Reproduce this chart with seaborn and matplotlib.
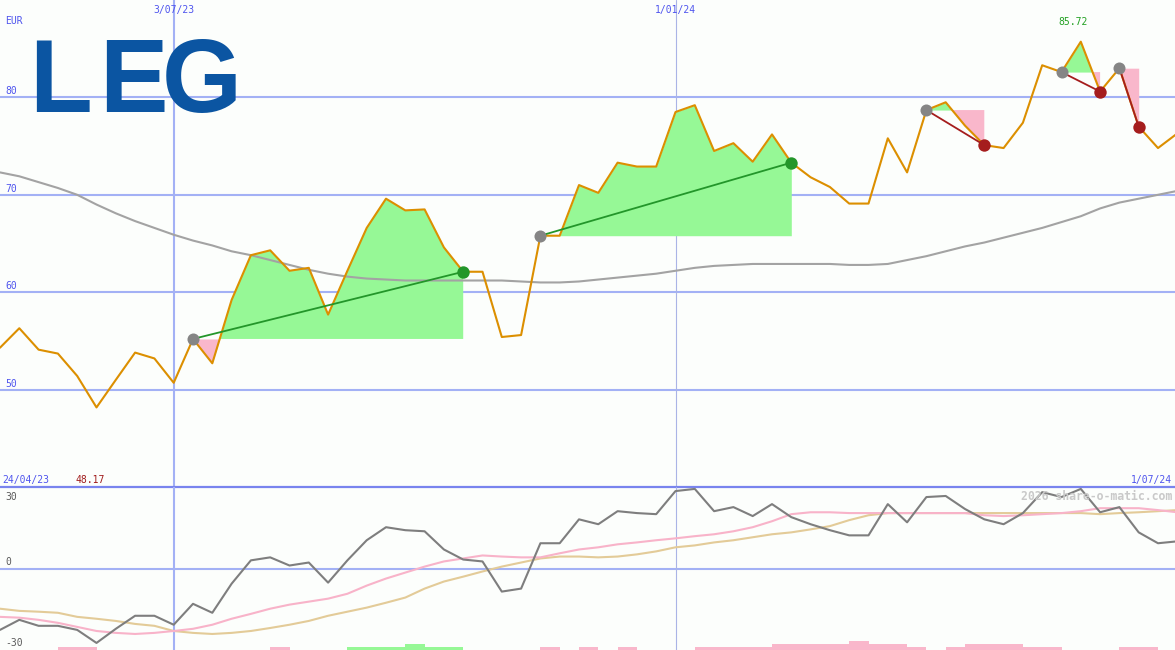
import matplotlib
matplotlib.use("Agg")
import matplotlib.pyplot as plt
import seaborn as sns
import numpy as np
import pandas as pd

# weekly closes (EUR), first point = week of 1/05/23
price = [54.3, 56.3, 54.1, 53.7, 51.4, 48.17, 51.0, 53.8, 53.2, 50.7,
         55.2, 52.7, 59.2, 63.8, 64.3, 62.2, 62.5, 57.7, 62.2, 66.6,
         69.6, 68.4, 68.5, 64.6, 62.1, 62.1, 55.4, 55.6, 65.8, 65.8,
         71.0, 70.2, 73.3, 72.9, 72.9, 78.5, 79.2, 74.5, 75.3, 73.4,
         76.2, 73.3, 71.8, 70.8, 69.1, 69.1, 75.8, 72.3, 78.7, 79.5,
         77.1, 75.1, 74.8, 77.4, 83.3, 82.6, 85.72, 80.6, 83.0, 77.0,
         74.8, 76.3]

# long moving average (grey)
ma_long = [72.3, 71.9, 71.3, 70.7, 70.0, 69.0, 68.1, 67.3, 66.6, 65.9,
           65.3, 64.8, 64.2, 63.8, 63.3, 62.8, 62.3, 61.9, 61.6, 61.4,
           61.3, 61.2, 61.2, 61.2, 61.2, 61.2, 61.2, 61.1, 61.0, 61.0,
           61.1, 61.3, 61.5, 61.7, 61.9, 62.2, 62.5, 62.7, 62.8, 62.9,
           62.9, 62.9, 62.9, 62.9, 62.8, 62.8, 62.9, 63.3, 63.7, 64.2,
           64.7, 65.1, 65.6, 66.1, 66.6, 67.2, 67.8, 68.6, 69.2, 69.6,
           70.0, 70.4]

# lower panel: oscillator and its two averages
osc = [-22.6, -18.9, -21.1, -21.1, -22.6, -27.4, -22.2, -17.4, -17.4, -20.7,
       -13.0, -16.3, -5.6, 3.0, 4.1, 1.1, 2.2, -5.2, 3.0, 10.4,
       15.2, 14.1, 13.7, 7.0, 3.3, 2.6, -8.5, -7.4, 9.3, 9.3,
       18.1, 16.3, 21.1, 20.4, 20.0, 28.5, 29.3, 21.1, 22.6, 19.3,
       23.7, 18.9, 16.3, 14.1, 12.2, 12.2, 23.7, 17.0, 26.3, 26.7,
       21.9, 18.1, 16.3, 20.4, 28.1, 26.3, 29.3, 20.7, 22.6, 13.3,
       9.3, 10.0]
osc_fast = [-17.8, -18.1, -18.9, -20.0, -21.5, -23.0, -23.7, -24.1, -23.7, -23.0,
            -22.2, -20.7, -18.5, -16.7, -14.8, -13.3, -12.2, -11.1, -9.3, -6.3,
            -3.7, -1.5, 0.7, 2.6, 3.7, 4.8, 4.4, 4.1, 4.1, 5.6,
            7.0, 7.8, 8.9, 9.6, 10.4, 11.1, 11.9, 12.6, 13.7, 15.2,
            17.4, 20.0, 20.7, 20.7, 20.4, 20.4, 20.4, 20.4, 20.4, 20.4,
            20.4, 19.6, 19.3, 19.6, 20.0, 20.4, 21.1, 22.2, 22.2, 22.2,
            21.5, 20.7]
osc_slow = [-14.8, -15.6, -15.9, -16.3, -17.8, -18.5, -19.3, -20.4, -21.1, -23.0,
            -23.7, -24.1, -23.7, -23.0, -21.9, -20.7, -19.3, -17.4, -15.9, -14.4,
            -12.6, -10.7, -7.4, -4.8, -3.0, -1.1, 0.7, 2.2, 3.7, 4.4,
            4.4, 4.1, 4.4, 5.2, 6.3, 7.8, 8.5, 9.6, 10.4, 11.5,
            12.6, 13.3, 14.4, 15.6, 17.8, 19.6, 20.4, 20.4, 20.4, 20.4,
            20.4, 20.4, 20.4, 20.4, 20.4, 20.4, 20.4, 20.0, 20.4, 20.7,
            21.1, 21.5]
# small histogram along the bottom edge (sign -> colour)
hist = [0, 0, 0, -1.1, -1.1, 0, 0, 0, 0, 0,
        0, 0, 0, 0, -1.1, 0, 0, 0, 1.1, 1.1,
        1.1, 2.2, 1.1, 1.1, 0, 0, 0, 0, -1.1, 0,
        -1.1, 0, -1.1, 0, 0, 0, -1.1, -1.1, -1.1, -1.1,
        -2.2, -2.2, -2.2, -2.2, -3.3, -2.2, -2.2, -1.1, 0, -1.1,
        -2.2, -2.2, -2.2, -1.1, -1.1, 0, 0, 0, -1.1, -1.1,
        0, 0]

# trades: entry / exit week index
buy_idx = [10, 28, 48, 55, 58]
sell_idx = [24, 41, 51, 57, 59]

date_pos = [9, 35]
date_labels = ["3/07/23", "1/01/24"]
price_grid = [50, 60, 70, 80]
osc_labels = [30, 0, -30]
start_label = "24/04/23"
end_label = "1/07/24"

W, H = 1175, 650
BG = "#fcfefc"
GRID = "#a3b1f5"
BLUE_TXT = "#4f55ee"
GREEN_FILL = "#96f896"
PINK_FILL = "#f9b7cb"
WIN = "#23962a"
LOSS = "#a51d1d"
MONO = "DejaVu Sans Mono"

sns.set_style("white")
plt.rcParams["font.family"] = ["DejaVu Sans"]

weeks = np.arange(len(price))
df = pd.DataFrame({"week": weeks, "price": price, "ma": ma_long,
                   "osc": osc, "fast": osc_fast, "slow": osc_slow, "hist": hist})
xmax = W / 19.3

fig = plt.figure(figsize=(W / 100, H / 100), dpi=100, facecolor=BG)
ax = fig.add_axes([0, 163 / H, 1, 487 / H])
ax2 = fig.add_axes([0, 0, 1, 163 / H])
for a in (ax, ax2):
    a.set_facecolor(BG)
    for s in a.spines.values():
        s.set_visible(False)
ax.set_ylim(40, 90)
ax2.set_ylim(-30, 30)

# grid
for v in price_grid:
    ax.axhline(v, color=GRID, lw=1.5, zorder=0)
ax2.axhline(0, color=GRID, lw=1.5, zorder=0)
ax2.axhline(30, color="#7984ee", lw=1.6, zorder=0, clip_on=False)
for a in (ax, ax2):
    a.axvline(date_pos[0], color=GRID, lw=1.5, zorder=0)
    a.axvline(date_pos[1], color="#aab4e6", lw=0.8, zorder=0)

# trade areas
p = np.array(price)
for b, s in zip(buy_idx, sell_idx):
    xs = weeks[b:s + 1]
    ys = p[b:s + 1]
    entry = p[b]
    ax.fill_between(xs, ys, entry, where=ys >= entry, interpolate=True,
                    color=GREEN_FILL, lw=0, zorder=1)
    ax.fill_between(xs, ys, entry, where=ys <= entry, interpolate=True,
                    color=PINK_FILL, lw=0, zorder=1)

sns.lineplot(data=df, x="week", y="ma", ax=ax, color="#a3a3a3", lw=1.5, zorder=2)
sns.lineplot(data=df, x="week", y="price", ax=ax, color="#dc8f00", lw=1.5, zorder=3)

for b, s in zip(buy_idx, sell_idx):
    c = WIN if p[s] > p[b] else LOSS
    ax.plot([b, s], [p[b], p[s]], color=c, lw=1.3, zorder=4)
    ax.scatter([b], [p[b]], s=75, color="#858585", zorder=5, lw=0)
    ax.scatter([s], [p[s]], s=80, color=c, zorder=5, lw=0)

# lower panel
hv = np.array(hist)
ax2.bar(weeks, np.abs(hv), bottom=-30, width=1, align="edge",
        color=[GREEN_FILL if h > 0 else PINK_FILL for h in hv], lw=0, zorder=1)
sns.lineplot(data=df, x="week", y="slow", ax=ax2, color="#e3cb98", lw=1.5, zorder=2)
sns.lineplot(data=df, x="week", y="fast", ax=ax2, color="#f8b3c9", lw=1.5, zorder=2)
sns.lineplot(data=df, x="week", y="osc", ax=ax2, color="#7e7e7e", lw=1.5, zorder=3)
for a in (ax, ax2):
    a.set_xlabel("")
    a.set_ylabel("")
    a.set_xticks([])
    a.set_yticks([])
    a.set_xlim(0, xmax)


def fx(px):
    return px / W


def fy(py):
    return 1 - py / H


def label(px, py, s, color=BLUE_TXT, ha="left", size=7, **kw):
    fig.text(fx(px), fy(py), s, color=color, ha=ha, va="baseline",
             family=MONO, fontsize=size, **kw)


# logo, letter by letter for the wide spacing
for lx, ch in zip([29, 99, 162], "LEG"):
    fig.text(fx(lx), fy(112), ch, color="#0b55a2", fontsize=74,
             fontweight="bold", ha="left", va="baseline",
             family="Liberation Sans")

label(5, 24, "EUR")
for v in price_grid:
    py = (90 - v) / 50 * 487
    label(5, py - 3, str(v))
for pos, lab in zip(date_pos, date_labels):
    label(pos * 19.3, 13, lab, ha="center")
imax = int(np.argmax(p))
label(imax * 19.3 - 8, 25, f"{p.max():.2f}", color="#22a022", ha="center")
label(2, 483, start_label)
label(75, 483, f"{p.min():.2f}", color="#a01a1a")
label(1172, 483, end_label, ha="right")
label(5, 500, str(osc_labels[0]), color="#5a5a5a")
label(5, 565, str(osc_labels[1]), color="#5a5a5a")
label(5, 646, str(osc_labels[2]), color="#5a5a5a")
label(1172, 500, "2026 share-o-matic.com", color="#c9c9c9", ha="right",
      size=8.3, fontweight="bold")

fig.savefig("out.png", dpi=100, facecolor=BG)
